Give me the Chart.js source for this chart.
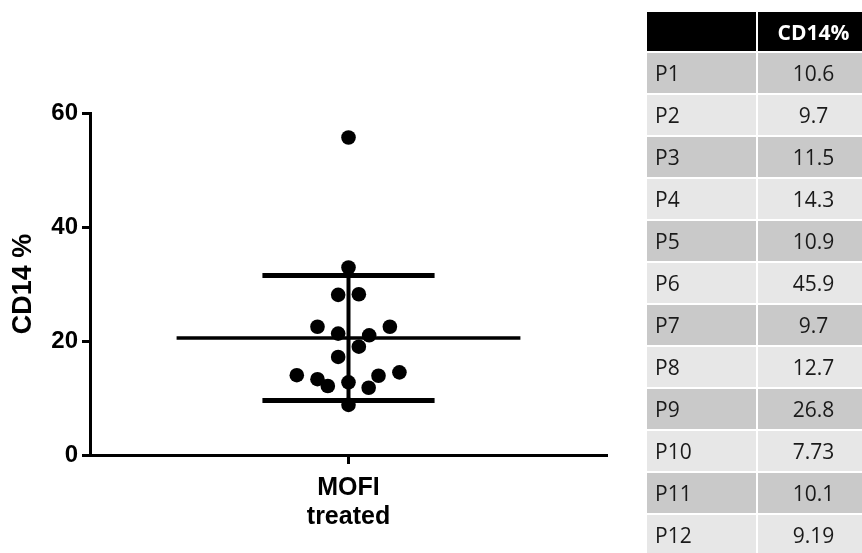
<!DOCTYPE html>
<html>
<head>
<meta charset="utf-8">
<script src="https://cdn.jsdelivr.net/npm/chart.js@4/dist/chart.umd.min.js"></script>
<style>
html,body{margin:0;padding:0;background:#fff;width:862px;height:553px;overflow:hidden;}
#wrap{position:relative;width:862px;height:553px;overflow:hidden;}
#c{position:absolute;left:0;top:0;}
#tbl{position:absolute;left:647px;top:12px;width:222px;display:grid;grid-template-columns:109px 111px;column-gap:2px;row-gap:2px;
  font-family:"Open Sans","Noto Sans",sans-serif;font-size:21px;color:#1a1a1a;}
#tbl div{display:flex;align-items:center;}
#tbl .h{background:#000;height:39px;color:#fff;font-weight:700;justify-content:center;}
#tbl .n{height:40px;padding-left:8px;}
#tbl .v{height:40px;justify-content:center;}
#tbl .odd{background:#c9c9c9;}
#tbl .even{background:#e7e7e7;}
</style>
</head>
<body>
<div id="wrap">
<canvas id="c" width="862" height="553"></canvas>
<div id="tbl"></div>
</div>
<script>
// ---- data ----
const categories = [['MOFI', 'treated']];
const yTicks = [0, 20, 40, 60];
const cd14Values = [55.7, 32.9, 28.1, 28.2, 22.5, 22.5, 21.3, 21.0, 19.0, 17.2, 14.0, 13.3, 12.1, 12.75, 13.9, 14.5, 11.8, 8.8];
const jitterOffsets = [0, 0, -0.04, 0.04, -0.12, 0.16, -0.04, 0.08, 0.04, -0.04, -0.2, -0.12, -0.08, 0, 0.116, 0.197, 0.078, 0];
const tableHeader = ['', 'CD14%'];
const patients = ['P1', 'P2', 'P3', 'P4', 'P5', 'P6', 'P7', 'P8', 'P9', 'P10', 'P11', 'P12'];
const tableValues = [10.6, 9.7, 11.5, 14.3, 10.9, 45.9, 9.7, 12.7, 26.8, 7.73, 10.1, 9.19];

// ---- table ----
const tbl = document.getElementById('tbl');
tableHeader.forEach(t => { const d = document.createElement('div'); d.className = 'h'; d.textContent = t; tbl.appendChild(d); });
patients.forEach((p, i) => {
  const cls = i % 2 === 0 ? 'odd' : 'even';
  const a = document.createElement('div'); a.className = 'n ' + cls; a.textContent = p; tbl.appendChild(a);
  const b = document.createElement('div'); b.className = 'v ' + cls; b.textContent = String(tableValues[i]); tbl.appendChild(b);
});

// ---- stats ----
const n = cd14Values.length;
const mean = cd14Values.reduce((s, v) => s + v, 0) / n;
const sd = Math.sqrt(cd14Values.reduce((s, v) => s + (v - mean) * (v - mean), 0) / (n - 1));

const MEAN_HALF = 0.665, SD_HALF = 0.333;
const FONT = '"Liberation Sans", Arial, Helvetica, sans-serif';
const lineDs = (pts, w) => ({ type: 'line', data: pts, borderColor: '#000', backgroundColor: '#000', borderWidth: w, pointRadius: 0, borderCapStyle: 'butt', fill: false, tension: 0 });

new Chart(document.getElementById('c'), {
  type: 'scatter',
  data: {
    datasets: [
      { data: cd14Values.map((v, i) => ({ x: jitterOffsets[i], y: v })), backgroundColor: '#000', borderColor: '#000', pointRadius: 7.3, pointHoverRadius: 7.3, borderWidth: 0 },
      lineDs([{ x: -MEAN_HALF, y: mean }, { x: MEAN_HALF, y: mean }], 3.5),
      lineDs([{ x: -SD_HALF, y: mean + sd }, { x: SD_HALF, y: mean + sd }], 5),
      lineDs([{ x: -SD_HALF, y: mean - sd }, { x: SD_HALF, y: mean - sd }], 5),
      lineDs([{ x: 0, y: mean - sd }, { x: 0, y: mean + sd }], 4)
    ]
  },
  options: {
    responsive: false, animation: false, devicePixelRatio: 1, events: [],
    layout: { padding: { top: 113, right: 255, left: 0, bottom: 0 } },
    plugins: { legend: { display: false }, tooltip: { enabled: false } },
    scales: {
      x: {
        type: 'linear', min: -1, max: 1,
        afterBuildTicks: a => { a.ticks = [{ value: 0 }]; },
        afterFit: s => { s.height = 98; },
        border: { display: true, color: '#000', width: 3 },
        grid: { drawOnChartArea: false, drawTicks: true, tickLength: 9, tickWidth: 3, tickColor: '#000' },
        ticks: { callback: v => (v === 0 ? categories[0] : ''), color: '#000', padding: 10, maxRotation: 0, autoSkip: false,
          font: { family: FONT, size: 25, weight: 'bold', lineHeight: 1.16 } }
      },
      y: {
        min: 0, max: 60,
        afterBuildTicks: a => { a.ticks = yTicks.map(v => ({ value: v })); },
        afterFit: s => { s.width = 90; },
        border: { display: true, color: '#000', width: 3 },
        grid: { drawOnChartArea: false, drawTicks: true, tickLength: 8, tickWidth: 3, tickColor: '#000' },
        ticks: { color: '#000', padding: 4, font: { family: FONT, size: 24, weight: 'bold' } },
        title: { display: true, text: 'CD14 %', color: '#000', padding: { top: 7, bottom: 0 }, font: { family: FONT, size: 27, weight: 'bold' } }
      }
    }
  }
});
</script>
</body>
</html>
